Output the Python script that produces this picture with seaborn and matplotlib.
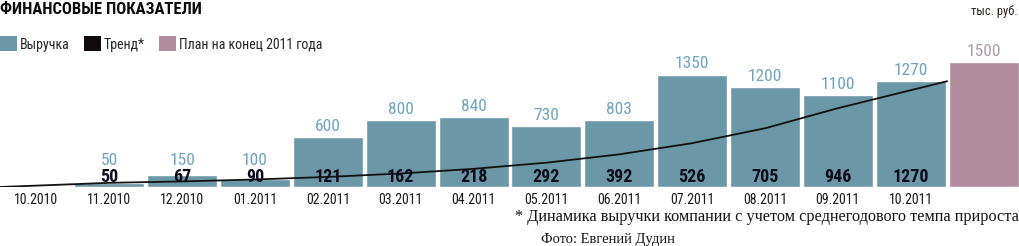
import numpy as np
import pandas as pd
import matplotlib
matplotlib.use("Agg")
import matplotlib.pyplot as plt
from matplotlib import font_manager
from matplotlib.patches import Patch
import seaborn as sns

# ---- data ----
months = ["10.2010", "11.2010", "12.2010", "01.2011", "02.2011", "03.2011", "04.2011",
          "05.2011", "06.2011", "07.2011", "08.2011", "09.2011", "10.2011"]
revenue = [0, 50, 150, 100, 600, 800, 840, 730, 803, 1350, 1200, 1100, 1270]
revenue_labels = ["", "50", "150", "100", "600", "800", "840", "730", "803", "1350", "1200", "1100", "1270"]
trend = [0, 50, 67, 90, 121, 162, 218, 292, 392, 526, 705, 946, 1270]
trend_labels = ["", "50", "67", "90", "121", "162", "218", "292", "392", "526", "705", "946", "1270"]
plan_label = "План на конец 2011 года"
plan_value = 1500

title = "ФИНАНСОВЫЕ ПОКАЗАТЕЛИ"
unit = "тыс. руб."
footnote = "* Динамика выручки компании с учетом среднегодового темпа прироста"
credit = "Фото: Евгений Дудин"

# ---- style ----
sns.set_style("white")
names = {f.name for f in font_manager.fontManager.ttflist}
NARROW = next((n for n in ["Liberation Sans Narrow", "DejaVu Sans Condensed", "Roboto Condensed",
                           "Open Sans Condensed", "Liberation Sans"] if n in names), "DejaVu Sans")
SERIF = "Liberation Serif" if "Liberation Serif" in names else "DejaVu Serif"
plt.rcParams["font.family"] = [NARROW, "DejaVu Sans"]

BLUE = "#6c97a6"
PINK = "#b08c9d"
LBLUE = "#6fa3bf"
PLANLBL = "#a79da6"

W, H = 1020, 246
fig = plt.figure(figsize=(W / 100, H / 100), dpi=100)
base_px = 187
ax = fig.add_axes([0, (H - base_px) / H, 1, base_px / H])

cats = months + ["План"]
vals = revenue + [plan_value]
df = pd.DataFrame({"cat": cats, "val": vals})
palette = {c: BLUE for c in months}
palette["План"] = PINK
sns.barplot(data=df, x="cat", y="val", hue="cat", palette=palette, width=0.96,
            saturation=1, legend=False, ax=ax, order=cats)

px_per_unit = 0.0833
ax.set_ylim(0, base_px / px_per_unit)
ax.set_xlim(-0.5, len(cats) - 0.5)
for s in ax.spines.values():
    s.set_visible(False)
ax.set_yticks([])
ax.set_xlabel("")
ax.set_ylabel("")
ax.set_xticks(range(len(months)))
ax.set_xticklabels(months, fontsize=10, color="#1a1a1a")
ax.tick_params(axis="x", length=0, pad=4.5)

# trend line spanning from left edge of first bar to right edge of last month bar
tx = np.arange(len(trend), dtype=float)
tx[0] = -0.5
tx[-1] = len(trend) - 0.5
ax.plot(tx, trend, color="#111111", lw=1.3, zorder=3)

# labels: revenue labels sit above the bar, but never lower than the trend labels
min_lbl = 15.5 / px_per_unit
for i, (v, lab) in enumerate(zip(revenue, revenue_labels)):
    if lab:
        ax.annotate(lab, (i, max(v, min_lbl)), xytext=(0, 2.5), textcoords="offset points",
                    ha="center", va="bottom", fontsize=12.5, color=LBLUE)
ax.annotate(str(plan_value), (len(months), plan_value), xytext=(0, 2.5), textcoords="offset points",
            ha="center", va="bottom", fontsize=12.5, color=PLANLBL)
for i, lab in enumerate(trend_labels):
    if lab:
        ax.annotate(lab, (i, 0), xytext=(0, 1), textcoords="offset points",
                    ha="center", va="bottom", fontsize=13, fontweight="bold", color="#0c0c1c", zorder=4)

# title, unit, legend, notes
fig.text(0.0, 1 - 9 / H, title, ha="left", va="center", fontsize=12, fontweight="bold", color="#0a0a0a")
fig.text(1 - 2 / W, 1 - 12 / H, unit, ha="right", va="center", fontsize=9, color="#2a2020")

handles = [Patch(facecolor=BLUE, edgecolor="none"),
           Patch(facecolor="#0e0a0e", edgecolor="none"),
           Patch(facecolor=PINK, edgecolor="none")]
fig.legend(handles, ["Выручка", "Тренд*", plan_label], loc="center left",
           bbox_to_anchor=(0, 1 - 44 / H), ncol=3, frameon=False, fontsize=10,
           handlelength=1.25, handleheight=1.25, handletextpad=0.2, columnspacing=1.0,
           borderpad=0, borderaxespad=0)

fig.text(1 - 1 / W, 1 - 217 / H, footnote, ha="right", va="center", fontsize=11.7,
         family=SERIF, color="#151515")
fig.text(541 / W, 1 - 240 / H, credit, ha="left", va="center", fontsize=10.5,
         family=SERIF, color="#151515")

fig.savefig("out.png", dpi=100)
